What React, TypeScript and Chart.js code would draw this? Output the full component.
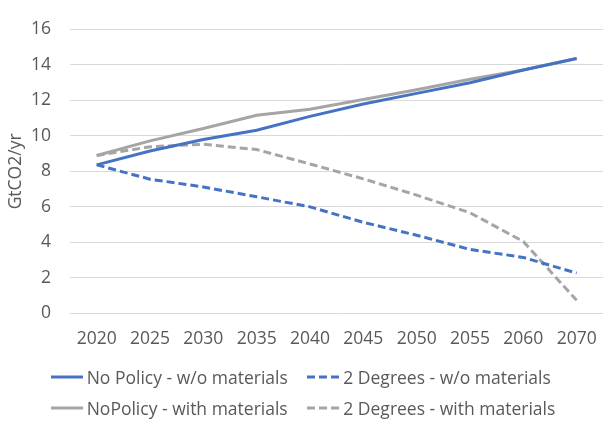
import React, { useEffect, useRef } from "react";
import { Chart, registerables } from "chart.js";

Chart.register(...registerables);

const categories = ["2020", "2025", "2030", "2035", "2040", "2045", "2050", "2055", "2060", "2070"];
const noPolicyWithout = [8.37, 9.15, 9.8, 10.32, 11.1, 11.8, 12.4, 13.0, 13.72, 14.37];
const twoDegWithout = [8.37, 7.56, 7.12, 6.57, 6.0, 5.13, 4.4, 3.6, 3.15, 2.27];
const noPolicyWith = [8.9, 9.72, 10.42, 11.17, 11.5, 12.05, 12.6, 13.2, 13.72, 14.37];
const twoDegWith = [8.9, 9.39, 9.53, 9.23, 8.42, 7.58, 6.66, 5.67, 4.05, 0.73];
const seriesNames = [
  "No Policy - w/o materials",
  "2 Degrees - w/o materials",
  "NoPolicy - with materials",
  "2 Degrees - with materials",
];
const yTitle = "GtCO2/yr";

const BLUE = "#4472C4";
const GRAY = "#A5A5A5";
const TEXT = "#595959";
const FONT = "'Open Sans', Lato, sans-serif";
const FS = 17.5;

export default function App() {
  const ref = useRef<HTMLCanvasElement | null>(null);
  useEffect(() => {
    if (!ref.current) return;
    const mk = (label: string, data: number[], color: string, dashed: boolean) => ({
      label,
      data,
      borderColor: color,
      backgroundColor: color,
      borderWidth: 3,
      borderDash: dashed ? [8, 4] : [],
      pointRadius: 0,
      tension: 0,
      fill: false,
    });
    const chart = new Chart(ref.current, {
      type: "line",
      data: {
        labels: categories,
        datasets: [
          mk(seriesNames[0], noPolicyWithout, BLUE, false),
          mk(seriesNames[1], twoDegWithout, BLUE, true),
          mk(seriesNames[2], noPolicyWith, GRAY, false),
          mk(seriesNames[3], twoDegWith, GRAY, true),
        ],
      },
      options: {
        responsive: false,
        animation: false,
        devicePixelRatio: 1,
        layout: { padding: { left: 0, top: 15.7, right: 7, bottom: 70.7 } },
        plugins: { legend: { display: false }, tooltip: { enabled: false } },
        scales: {
          x: {
            offset: true,
            grid: { display: false, drawTicks: false },
            border: { display: false },
            ticks: { color: TEXT, font: { family: FONT, size: FS }, padding: 15, maxRotation: 0, autoSkip: false },
            afterFit: (s: any) => {
              s.height = 40;
            },
          },
          y: {
            min: 0,
            max: 16,
            grid: { color: "#D9D9D9", lineWidth: 1, drawTicks: false },
            border: { display: false },
            ticks: { stepSize: 2, color: TEXT, font: { family: FONT, size: FS }, padding: 19 },
            title: {
              display: true,
              text: yTitle,
              color: TEXT,
              font: { family: FONT, size: FS, weight: "normal" },
              padding: { top: 6, bottom: 0 },
            },
            afterFit: (s: any) => {
              s.width = 70;
            },
          },
        },
      },
    });
    return () => chart.destroy();
  }, []);

  const legendItems = [
    { name: seriesNames[0], color: BLUE, dashed: false, x: 50.7, y: 376.7 },
    { name: seriesNames[1], color: BLUE, dashed: true, x: 307.3, y: 376.7 },
    { name: seriesNames[2], color: GRAY, dashed: false, x: 50.7, y: 408.3 },
    { name: seriesNames[3], color: GRAY, dashed: true, x: 307.3, y: 408.3 },
  ];

  return (
    <div style={{ position: "absolute", left: 0, top: 0, width: 612, height: 424, background: "#fff" }}>
      <canvas ref={ref} width={612} height={424} style={{ position: "absolute", left: 0, top: 0 }} />
      {legendItems.map((it) => (
        <div
          key={it.name}
          style={{
            position: "absolute",
            left: it.x,
            top: it.y - 12,
            height: 24,
            display: "flex",
            alignItems: "center",
            whiteSpace: "nowrap",
            fontFamily: FONT,
            fontSize: FS,
            color: TEXT,
          }}
        >
          <svg width={32} height={6} style={{ marginRight: 4 }}>
            <line
              x1={0}
              y1={3}
              x2={32}
              y2={3}
              stroke={it.color}
              strokeWidth={3}
              strokeDasharray={it.dashed ? "8 4" : undefined}
            />
          </svg>
          <span>{it.name}</span>
        </div>
      ))}
    </div>
  );
}
